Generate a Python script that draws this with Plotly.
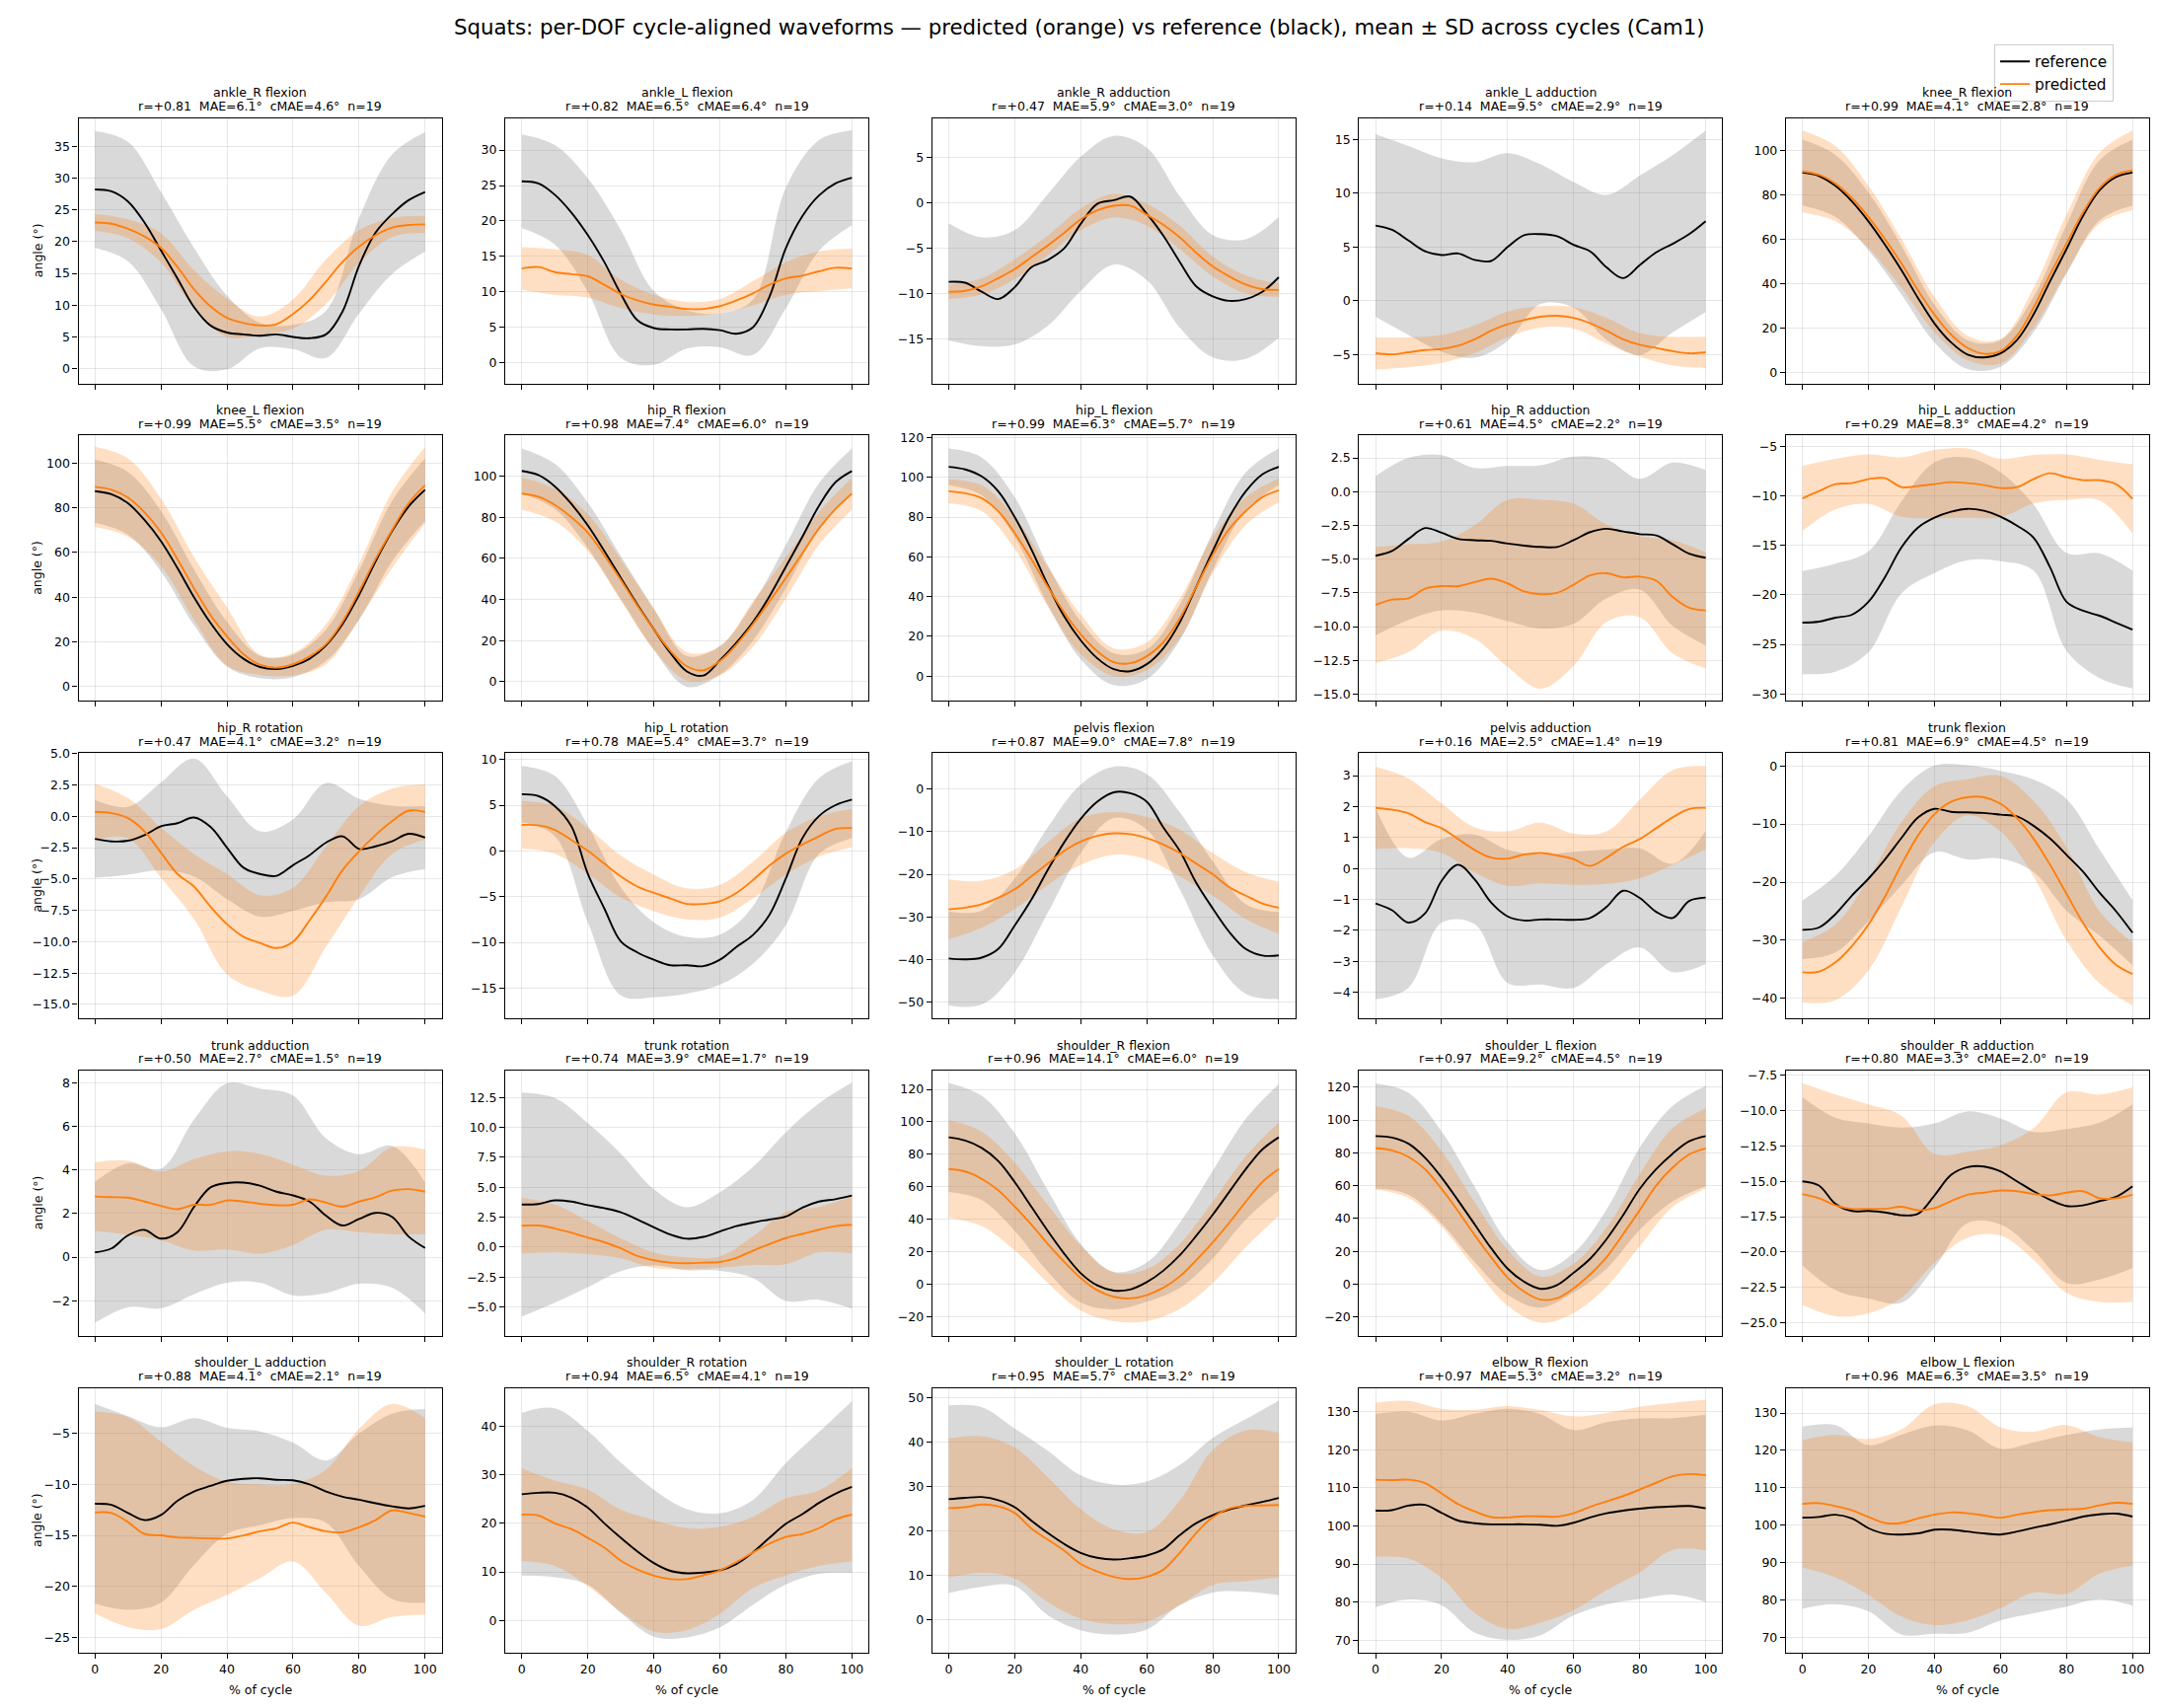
import plotly.graph_objects as go

# ---------------- data ----------------
X = [0, 5, 10, 15, 20, 25, 30, 35, 40, 45, 50, 55, 60, 65, 70, 75, 80, 85, 90, 95, 100]
XB = [0, 10, 20, 30, 40, 50, 60, 70, 80, 90, 100]

dof_labels = ["ankle_R flexion", "ankle_L flexion", "ankle_R adduction", "ankle_L adduction", "knee_R flexion",
              "knee_L flexion", "hip_R flexion", "hip_L flexion", "hip_R adduction", "hip_L adduction",
              "hip_R rotation", "hip_L rotation", "pelvis flexion", "pelvis adduction", "trunk flexion",
              "trunk adduction", "trunk rotation", "shoulder_R flexion", "shoulder_L flexion", "shoulder_R adduction",
              "shoulder_L adduction", "shoulder_R rotation", "shoulder_L rotation", "elbow_R flexion", "elbow_L flexion"]
r_values = [0.81, 0.82, 0.47, 0.14, 0.99, 0.99, 0.98, 0.99, 0.61, 0.29, 0.47, 0.78, 0.87, 0.16, 0.81,
            0.50, 0.74, 0.96, 0.97, 0.80, 0.88, 0.94, 0.95, 0.97, 0.96]
mae_values = [6.1, 6.5, 5.9, 9.5, 4.1, 5.5, 7.4, 6.3, 4.5, 8.3, 4.1, 5.4, 9.0, 2.5, 6.9,
              2.7, 3.9, 14.1, 9.2, 3.3, 4.1, 6.5, 5.7, 5.3, 6.3]
cmae_values = [4.6, 6.4, 3.0, 2.9, 2.8, 3.5, 6.0, 5.7, 2.2, 4.2, 3.2, 3.7, 7.8, 1.4, 4.5,
               1.5, 1.7, 6.0, 4.5, 2.0, 2.1, 4.1, 3.2, 3.2, 3.5]
n_cycles = [19] * 25

ankle_R_flexion_ref = [28.2, 27.9, 26.3, 23.0, 18.6, 14.2, 9.7, 6.8, 5.7, 5.4, 5.2, 5.4, 5.0, 4.8, 5.4, 9.0, 16.2, 21.4, 24.3, 26.5, 27.8]
ankle_R_flexion_ref_sd = [9.2, 9.4, 9.2, 9.3, 5.8, 2.0, 1.9, 3.7, 7.5, 9.4, 9.4]
ankle_R_flexion_pred = [23.0, 22.8, 22.0, 20.8, 19.0, 16.0, 12.5, 9.8, 8.0, 7.2, 6.8, 7.0, 8.6, 10.8, 13.7, 16.8, 19.2, 21.0, 22.2, 22.6, 22.7]
ankle_R_flexion_pred_sd = [1.3, 1.5, 2.3, 3.0, 3.0, 1.4, 2.3, 3.5, 2.6, 1.5, 1.35]

ankle_L_flexion_ref = [25.6, 25.3, 23.7, 21.2, 18.0, 14.2, 9.7, 6.0, 4.9, 4.7, 4.7, 4.8, 4.6, 4.1, 5.0, 9.3, 16.2, 20.7, 23.6, 25.3, 26.1]
ankle_L_flexion_ref_sd = [6.6, 7.0, 8.0, 9.0, 5.2, 2.7, 2.4, 3.9, 8.5, 7.8, 6.7]
ankle_L_flexion_pred = [13.3, 13.5, 12.8, 12.5, 12.2, 11.0, 9.7, 8.8, 8.2, 7.9, 7.6, 7.6, 8.0, 8.8, 9.8, 11.0, 11.9, 12.3, 12.9, 13.4, 13.3]
ankle_L_flexion_pred_sd = [3.0, 3.2, 3.0, 2.0, 1.4, 1.0, 1.0, 1.7, 2.3, 2.8, 2.8]

ankle_R_adduction_ref = [-8.7, -8.8, -9.8, -10.6, -9.3, -7.1, -6.3, -5.0, -2.3, -0.1, 0.3, 0.7, -1.2, -3.6, -6.5, -9.2, -10.3, -10.8, -10.6, -9.8, -8.2]
ankle_R_adduction_ref_sd = [6.45, 6.0, 6.3, 7.25, 7.4, 7.1, 7.3, 7.25, 6.75, 6.6, 6.65]
ankle_R_adduction_pred = [-9.8, -9.7, -9.2, -8.3, -7.3, -6.0, -4.7, -3.3, -1.8, -0.8, -0.3, -0.3, -1.3, -2.4, -3.8, -5.5, -7.0, -8.1, -9.0, -9.5, -9.6]
ankle_R_adduction_pred_sd = [0.8, 0.9, 1.1, 1.1, 1.2, 1.3, 1.2, 1.3, 1.1, 1.0, 0.75]

ankle_L_adduction_ref = [7.0, 6.6, 5.6, 4.6, 4.25, 4.4, 3.8, 3.7, 5.0, 6.1, 6.2, 6.0, 5.2, 4.6, 3.1, 2.1, 3.3, 4.5, 5.3, 6.2, 7.4]
ankle_L_adduction_ref_sd = [8.5, 8.8, 9.0, 9.1, 8.75, 6.5, 5.85, 6.75, 8.35, 8.25, 8.45]
ankle_L_adduction_pred = [-4.9, -5.0, -4.8, -4.6, -4.5, -4.2, -3.6, -2.8, -2.2, -1.8, -1.5, -1.4, -1.6, -2.1, -2.8, -3.6, -4.1, -4.4, -4.7, -4.9, -4.8]
ankle_L_adduction_pred_sd = [1.5, 1.4, 1.3, 1.3, 1.2, 1.0, 1.0, 1.2, 1.1, 1.35, 1.45]

knee_R_flexion_ref = [90, 88.5, 84, 77, 68, 57.5, 46, 33.5, 22, 13.5, 8, 6.7, 8.5, 14.5, 26, 41, 55.5, 70.5, 82, 88, 90]
knee_R_flexion_ref_sd = [14.8, 14, 13, 11, 8.5, 6.5, 6, 8, 11, 13.5, 14.8]
knee_R_flexion_pred = [90.5, 89, 85, 78.5, 70, 60, 49, 37, 26, 17, 11, 8.3, 9.5, 16.5, 29, 44, 58, 72, 83, 89, 91]
knee_R_flexion_pred_sd = [18.5, 17, 14, 11, 8, 5.5, 5.5, 9, 13, 16, 18]

knee_L_flexion_ref = [87.4, 86, 82, 74.5, 65, 53, 40, 28.5, 19, 12.5, 8.8, 7.9, 9.3, 12.5, 18.5, 28, 41, 56, 69.5, 80.5, 88]
knee_L_flexion_ref_sd = [14.1, 14, 13.5, 12.5, 10, 5, 5, 7, 11, 13.5, 14]
knee_L_flexion_pred = [89.3, 88, 84.5, 78, 69, 57, 44, 32, 22.5, 14.5, 9.8, 8.5, 10, 13.5, 19, 29, 42.5, 57, 70, 82, 90]
knee_L_flexion_pred_sd = [17.9, 17.5, 15, 14, 13, 4.5, 5, 9, 12.5, 17, 17.1]

hip_R_flexion_ref = [102.5, 100.5, 95, 86.5, 76, 63.5, 50.5, 37.5, 25.5, 14, 5, 3.0, 10.4, 19, 29, 41.5, 56, 70.5, 85.5, 97, 102.5]
hip_R_flexion_ref_sd = [11, 11, 11, 10.5, 10, 7.5, 7, 9, 10.5, 11, 11]
hip_R_flexion_pred = [91.5, 90, 86, 80, 72.5, 61.5, 49.5, 37, 25.5, 15, 7.5, 5.5, 10, 18, 28, 39, 50.5, 62.5, 74.5, 84, 91.5]
hip_R_flexion_pred_sd = [7.8, 8, 9, 10, 10, 7, 7, 11, 10, 8, 7.8]

hip_L_flexion_ref = [105.3, 104, 100.5, 93, 80, 64, 46, 30, 18, 9, 3.5, 2.5, 6, 14, 27, 45, 63, 80, 93, 101.5, 105.3]
hip_L_flexion_ref_sd = [9.2, 9.5, 10, 10, 9.5, 8, 7.5, 9, 9.5, 9.5, 9.2]
hip_L_flexion_pred = [93, 92, 89.5, 83, 72, 59, 45, 32, 21, 12.5, 7, 6.5, 10, 17, 29, 45, 61, 74, 83, 90, 93.5]
hip_L_flexion_pred_sd = [6, 6.5, 8, 10, 10, 7, 7, 10, 9, 7, 6]

hip_R_adduction_ref = [-4.75, -4.4, -3.5, -2.7, -3.05, -3.5, -3.6, -3.65, -3.85, -4.0, -4.1, -4.1, -3.6, -3.0, -2.75, -2.95, -3.15, -3.25, -3.9, -4.6, -4.9]
hip_R_adduction_ref_sd = [5.9, 6.0, 5.75, 5.35, 5.75, 6.05, 6.2, 5.15, 4.1, 6.05, 6.5]
hip_R_adduction_pred = [-8.4, -8.0, -7.9, -7.2, -7.0, -7.0, -6.7, -6.45, -6.8, -7.4, -7.6, -7.5, -6.9, -6.2, -6.05, -6.35, -6.3, -6.6, -7.8, -8.6, -8.8]
hip_R_adduction_pred_sd = [4.3, 4.0, 3.3, 4.2, 6.2, 7.0, 6.0, 3.6, 3.0, 4.2, 4.3]

hip_L_adduction_ref = [-22.8, -22.7, -22.3, -22.0, -20.7, -18.2, -15.2, -13.2, -12.2, -11.6, -11.3, -11.5, -12.1, -13.0, -14.2, -17.2, -20.7, -21.6, -22.1, -22.8, -23.5]
hip_L_adduction_ref_sd = [5.2, 5.45, 5.1, 4.65, 5.6, 5.2, 4.5, 3.35, 4.95, 6.3, 5.95]
hip_L_adduction_pred = [-10.25, -9.5, -8.8, -8.7, -8.3, -8.2, -9.1, -9.0, -8.8, -8.6, -8.7, -8.9, -9.2, -9.1, -8.3, -7.7, -8.1, -8.4, -8.4, -8.8, -10.3]
hip_L_adduction_pred_sd = [3.3, 2.55, 2.5, 3.0, 3.45, 3.5, 2.95, 2.45, 2.3, 2.05, 3.5]

hip_R_rotation_ref = [-1.8, -2.0, -1.95, -1.5, -0.8, -0.55, -0.1, -0.85, -2.5, -4.1, -4.6, -4.75, -3.9, -3.1, -2.1, -1.6, -2.6, -2.4, -2.0, -1.4, -1.7]
hip_R_rotation_ref_sd = [3.1, 2.7, 3.5, 4.7, 4.1, 3.4, 3.65, 4.75, 4.0, 2.85, 2.5]
hip_R_rotation_pred = [0.35, 0.25, -0.15, -1.2, -2.9, -4.6, -5.6, -7.2, -8.6, -9.6, -10.1, -10.5, -10.0, -8.3, -6.4, -4.3, -2.8, -1.5, -0.4, 0.45, 0.35]
hip_R_rotation_pred_sd = [2.25, 1.6, 2.0, 2.6, 4.0, 3.8, 4.3, 4.0, 3.6, 2.6, 2.2]

hip_L_rotation_ref = [6.2, 6.0, 4.9, 2.7, -2.5, -6.3, -9.9, -11.1, -11.9, -12.5, -12.5, -12.6, -11.9, -10.5, -9.2, -7.0, -3.0, 1.4, 3.8, 5.0, 5.6]
hip_L_rotation_ref_sd = [3.1, 3.3, 5.3, 5.9, 4.1, 3.1, 2.75, 3.15, 5.1, 4.15, 4.2]
hip_L_rotation_pred = [2.85, 2.8, 2.3, 1.2, 0.0, -1.4, -2.8, -3.9, -4.6, -5.2, -5.8, -5.8, -5.5, -4.6, -3.2, -1.6, -0.3, 0.7, 1.6, 2.4, 2.5]
hip_L_rotation_pred_sd = [2.6, 2.6, 2.5, 2.3, 2.0, 1.7, 1.8, 2.0, 2.3, 2.2, 2.1]

pelvis_flexion_ref = [-39.7, -39.9, -39.5, -37.5, -32, -26, -19, -12.5, -7, -3, -0.8, -1.0, -3.0, -9, -14.5, -22, -28, -33.5, -37.5, -39, -39]
pelvis_flexion_ref_sd = [11, 11, 11, 10, 8, 6, 6.5, 9, 11, 10.5, 10.2]
pelvis_flexion_pred = [-28.2, -27.8, -27.0, -25.5, -23.5, -20.5, -17.5, -14.5, -12.3, -11, -10.4, -10.6, -11.5, -13, -15, -17.5, -20, -23, -25, -26.8, -27.8]
pelvis_flexion_pred_sd = [7.0, 5.5, 4.6, 5.0, 5.5, 5.0, 5.0, 5.5, 5.0, 5.5, 6.1]

pelvis_adduction_ref = [-1.13, -1.35, -1.75, -1.45, -0.4, 0.12, -0.35, -1.1, -1.55, -1.68, -1.65, -1.65, -1.66, -1.6, -1.24, -0.72, -0.95, -1.4, -1.6, -1.05, -0.94]
pelvis_adduction_ref_sd = [3.1, 2.1, 1.35, 1.45, 2.15, 2.1, 2.2, 1.85, 1.6, 1.75, 2.15]
pelvis_adduction_pred = [1.96, 1.9, 1.78, 1.5, 1.3, 0.95, 0.6, 0.35, 0.32, 0.45, 0.5, 0.42, 0.3, 0.08, 0.35, 0.7, 0.95, 1.3, 1.65, 1.92, 1.96]
pelvis_adduction_pred_sd = [1.33, 1.13, 0.8, 0.73, 0.88, 0.98, 0.83, 0.85, 1.27, 1.53, 1.35]

trunk_flexion_ref = [-28.2, -27.8, -25.5, -22.3, -19.4, -16.1, -12.4, -8.9, -7.4, -7.9, -8.0, -8.1, -8.4, -8.7, -10.3, -12.5, -15.3, -18.2, -21.8, -25.0, -28.7]
trunk_flexion_ref_sd = [5.05, 6.6, 7.3, 8.15, 7.45, 8.1, 7.55, 7.95, 9.6, 7.4, 5.6]
trunk_flexion_pred = [-35.5, -35.4, -33.8, -31.0, -27.3, -22.5, -17, -12, -8.3, -6.2, -5.4, -5.4, -6.5, -9.0, -12.5, -17.0, -22.0, -27, -31.2, -34.2, -35.8]
trunk_flexion_pred_sd = [5.2, 6.5, 7.9, 7.3, 4.8, 3.1, 4.8, 6.5, 8.0, 6.2, 5.4]

trunk_adduction_ref = [0.22, 0.4, 1.0, 1.25, 0.85, 1.15, 2.3, 3.2, 3.4, 3.42, 3.28, 3.0, 2.83, 2.55, 1.9, 1.45, 1.75, 2.03, 1.85, 0.95, 0.42]
trunk_adduction_ref_sd = [3.23, 3.3, 3.2, 4.0, 4.57, 4.45, 4.58, 3.55, 2.97, 3.25, 3.0]
trunk_adduction_pred = [2.78, 2.75, 2.73, 2.55, 2.35, 2.2, 2.4, 2.4, 2.6, 2.55, 2.45, 2.38, 2.4, 2.65, 2.5, 2.32, 2.55, 2.75, 3.05, 3.12, 3.0]
trunk_adduction_pred_sd = [1.58, 1.7, 1.58, 2.1, 2.25, 2.29, 1.84, 1.24, 1.4, 2.0, 1.94]

trunk_rotation_ref = [3.55, 3.6, 3.9, 3.8, 3.5, 3.25, 2.9, 2.3, 1.65, 1.05, 0.7, 0.85, 1.3, 1.75, 2.05, 2.3, 2.55, 3.3, 3.8, 4.0, 4.3]
trunk_rotation_ref_sd = [9.36, 8.55, 6.85, 4.9, 3.18, 2.63, 3.28, 4.63, 7.05, 8.2, 9.45]
trunk_rotation_pred = [1.78, 1.8, 1.55, 1.2, 0.8, 0.4, -0.1, -0.75, -1.1, -1.3, -1.35, -1.3, -1.25, -0.9, -0.3, 0.25, 0.75, 1.1, 1.45, 1.75, 1.86]
trunk_rotation_pred_sd = [2.33, 2.0, 1.38, 0.83, 0.65, 0.49, 0.48, 1.19, 2.18, 1.9, 2.39]

shoulder_R_flexion_ref = [90.5, 88.5, 84, 76, 63, 48, 33, 19, 7, -0.5, -3.7, -3.0, 1.5, 8.5, 18, 30, 43, 57, 71, 83, 90.5]
shoulder_R_flexion_ref_sd = [33.5, 32, 30, 25, 18, 11.5, 12, 20, 27, 31, 32.7]
shoulder_R_flexion_pred = [71, 69.5, 65, 58, 48, 37, 25, 14, 4, -3.5, -7.5, -8.5, -6.5, -2, 5, 15, 26, 38, 51, 63, 71]
shoulder_R_flexion_pred_sd = [30, 29, 27, 24, 20, 15, 16, 20, 25, 28, 28.7]

shoulder_L_flexion_ref = [90.2, 89.3, 85.5, 77, 65, 51, 36.5, 22, 9.5, 1.5, -2.8, -0.5, 7, 15.5, 27.5, 42, 58, 70, 79.5, 87, 90.2]
shoulder_L_flexion_ref_sd = [32, 31, 28, 23, 16, 11.5, 12, 18, 25, 29, 30.5]
shoulder_L_flexion_pred = [82.9, 81.5, 77.5, 70, 58, 44.5, 30, 16.5, 4, -4.5, -9.4, -8.5, -2.5, 6, 16.5, 30.5, 45, 60, 71, 79, 82.7]
shoulder_L_flexion_pred_sd = [25.4, 25, 23, 20, 17, 14, 15, 18, 22, 24, 24.4]

shoulder_R_adduction_ref = [-15.0, -15.3, -16.6, -17.1, -17.1, -17.2, -17.4, -17.3, -16.0, -14.55, -14.0, -13.95, -14.3, -15.0, -15.7, -16.3, -16.75, -16.7, -16.4, -16.1, -15.35]
shoulder_R_adduction_ref_sd = [5.95, 6.1, 6.2, 6.2, 5.1, 3.95, 3.75, 4.2, 5.45, 5.55, 5.8]
shoulder_R_adduction_pred = [-15.9, -16.2, -16.7, -16.95, -16.95, -16.95, -16.8, -17.05, -16.9, -16.4, -15.95, -15.8, -15.65, -15.7, -15.9, -16.0, -15.8, -15.7, -16.2, -16.2, -15.95]
shoulder_R_adduction_pred_sd = [7.85, 7.85, 7.4, 6.45, 3.85, 3.05, 3.2, 4.65, 7.1, 7.35, 7.6]

shoulder_L_adduction_ref = [-11.9, -12.0, -12.8, -13.5, -13.0, -11.6, -10.7, -10.15, -9.65, -9.45, -9.4, -9.55, -9.6, -10.0, -10.7, -11.2, -11.5, -11.85, -12.15, -12.35, -12.1]
shoulder_L_adduction_ref_sd = [9.8, 9.5, 8.6, 7.2, 5.2, 4.6, 3.7, 3.05, 6.5, 9.1, 9.5]
shoulder_L_adduction_pred = [-12.75, -12.8, -13.7, -14.85, -15.0, -15.2, -15.25, -15.3, -15.3, -15.0, -14.6, -14.3, -13.75, -14.2, -14.6, -14.7, -14.2, -13.5, -12.55, -12.8, -13.15]
shoulder_L_adduction_pred_sd = [9.9, 10.3, 9.2, 7.05, 5.55, 4.6, 3.8, 6.05, 9.65, 10.45, 9.65]

shoulder_R_rotation_ref = [26.0, 26.3, 26.3, 25.3, 23.2, 20.0, 17.0, 14.2, 11.8, 10.2, 9.7, 9.85, 10.3, 11.6, 14.0, 17.0, 19.9, 21.9, 24.2, 26.1, 27.5]
shoulder_R_rotation_ref_sd = [16.75, 17.4, 15.85, 15.5, 15.15, 13.2, 11.75, 10.8, 12.5, 14.6, 17.7]
shoulder_R_rotation_pred = [21.8, 21.6, 20.0, 18.8, 17.0, 15.0, 12.3, 10.5, 9.2, 8.5, 8.5, 9.3, 10.3, 12.0, 14.0, 15.8, 17.2, 17.8, 19.0, 20.8, 21.8]
shoulder_R_rotation_pred_sd = [9.55, 8.8, 9.95, 10.5, 11.5, 10.5, 8.95, 7.35, 7.95, 7.8, 9.6]

shoulder_L_rotation_ref = [27.1, 27.4, 27.6, 26.9, 25.3, 22.3, 19.5, 17.0, 15.0, 13.9, 13.5, 13.8, 14.4, 15.8, 19.0, 21.7, 23.5, 24.8, 25.7, 26.5, 27.4]
shoulder_L_rotation_ref_sd = [21.15, 20.25, 17.75, 18.55, 17.45, 16.9, 16.7, 15.8, 17.45, 19.45, 21.95]
shoulder_L_rotation_pred = [25.1, 25.3, 25.9, 25.5, 24.0, 20.5, 18.0, 15.5, 12.5, 10.8, 9.6, 9.1, 9.6, 11.2, 15.0, 19.5, 23.0, 25.0, 25.6, 25.7, 25.8]
shoulder_L_rotation_pred_sd = [15.65, 15.4, 14.75, 14.1, 12.35, 10.7, 10.1, 11.8, 15.2, 17.0, 16.3]

elbow_R_flexion_ref = [104.0, 104.1, 105.3, 105.5, 103.4, 101.4, 100.7, 100.4, 100.4, 100.4, 100.3, 100.0, 100.8, 102.2, 103.3, 104.0, 104.5, 104.9, 105.1, 105.2, 104.6]
elbow_R_flexion_ref_sd = [25.35, 24.65, 24.25, 28.7, 30.3, 29.0, 24.3, 23.9, 23.7, 23.15, 24.55]
elbow_R_flexion_pred = [112.1, 112.0, 112.1, 111.2, 108.5, 105.7, 103.8, 102.3, 102.2, 102.5, 102.5, 102.4, 103.3, 105.0, 106.4, 107.8, 109.5, 111.3, 113.0, 113.6, 113.3]
elbow_R_flexion_pred_sd = [20.25, 20.7, 22.2, 26.65, 29.25, 27.9, 25.45, 23.25, 21.75, 19.3, 19.8]

elbow_L_flexion_ref = [102.0, 102.2, 102.8, 101.8, 99.2, 97.7, 97.5, 97.8, 98.8, 98.8, 98.3, 97.8, 97.5, 98.3, 99.3, 100.2, 101.2, 102.3, 102.9, 103.1, 102.3]
elbow_L_flexion_ref_sd = [24.35, 23.95, 22.2, 26.7, 27.85, 27.05, 22.95, 22.85, 22.95, 22.7, 23.8]
elbow_L_flexion_pred = [105.7, 105.9, 105.1, 104.0, 102.2, 100.6, 100.6, 101.8, 102.8, 103.4, 103.2, 102.6, 102.0, 102.8, 103.5, 104.0, 104.2, 104.4, 105.3, 106.0, 105.7]
elbow_L_flexion_pred_sd = [17, 19.1, 20.85, 25, 29.5, 28.65, 24.2, 21.5, 22.6, 18.25, 16.45]

series = [
    (ankle_R_flexion_ref, ankle_R_flexion_ref_sd, ankle_R_flexion_pred, ankle_R_flexion_pred_sd),
    (ankle_L_flexion_ref, ankle_L_flexion_ref_sd, ankle_L_flexion_pred, ankle_L_flexion_pred_sd),
    (ankle_R_adduction_ref, ankle_R_adduction_ref_sd, ankle_R_adduction_pred, ankle_R_adduction_pred_sd),
    (ankle_L_adduction_ref, ankle_L_adduction_ref_sd, ankle_L_adduction_pred, ankle_L_adduction_pred_sd),
    (knee_R_flexion_ref, knee_R_flexion_ref_sd, knee_R_flexion_pred, knee_R_flexion_pred_sd),
    (knee_L_flexion_ref, knee_L_flexion_ref_sd, knee_L_flexion_pred, knee_L_flexion_pred_sd),
    (hip_R_flexion_ref, hip_R_flexion_ref_sd, hip_R_flexion_pred, hip_R_flexion_pred_sd),
    (hip_L_flexion_ref, hip_L_flexion_ref_sd, hip_L_flexion_pred, hip_L_flexion_pred_sd),
    (hip_R_adduction_ref, hip_R_adduction_ref_sd, hip_R_adduction_pred, hip_R_adduction_pred_sd),
    (hip_L_adduction_ref, hip_L_adduction_ref_sd, hip_L_adduction_pred, hip_L_adduction_pred_sd),
    (hip_R_rotation_ref, hip_R_rotation_ref_sd, hip_R_rotation_pred, hip_R_rotation_pred_sd),
    (hip_L_rotation_ref, hip_L_rotation_ref_sd, hip_L_rotation_pred, hip_L_rotation_pred_sd),
    (pelvis_flexion_ref, pelvis_flexion_ref_sd, pelvis_flexion_pred, pelvis_flexion_pred_sd),
    (pelvis_adduction_ref, pelvis_adduction_ref_sd, pelvis_adduction_pred, pelvis_adduction_pred_sd),
    (trunk_flexion_ref, trunk_flexion_ref_sd, trunk_flexion_pred, trunk_flexion_pred_sd),
    (trunk_adduction_ref, trunk_adduction_ref_sd, trunk_adduction_pred, trunk_adduction_pred_sd),
    (trunk_rotation_ref, trunk_rotation_ref_sd, trunk_rotation_pred, trunk_rotation_pred_sd),
    (shoulder_R_flexion_ref, shoulder_R_flexion_ref_sd, shoulder_R_flexion_pred, shoulder_R_flexion_pred_sd),
    (shoulder_L_flexion_ref, shoulder_L_flexion_ref_sd, shoulder_L_flexion_pred, shoulder_L_flexion_pred_sd),
    (shoulder_R_adduction_ref, shoulder_R_adduction_ref_sd, shoulder_R_adduction_pred, shoulder_R_adduction_pred_sd),
    (shoulder_L_adduction_ref, shoulder_L_adduction_ref_sd, shoulder_L_adduction_pred, shoulder_L_adduction_pred_sd),
    (shoulder_R_rotation_ref, shoulder_R_rotation_ref_sd, shoulder_R_rotation_pred, shoulder_R_rotation_pred_sd),
    (shoulder_L_rotation_ref, shoulder_L_rotation_ref_sd, shoulder_L_rotation_pred, shoulder_L_rotation_pred_sd),
    (elbow_R_flexion_ref, elbow_R_flexion_ref_sd, elbow_R_flexion_pred, elbow_R_flexion_pred_sd),
    (elbow_L_flexion_ref, elbow_L_flexion_ref_sd, elbow_L_flexion_pred, elbow_L_flexion_pred_sd),
]

# ---------------- axis configuration ----------------
y_ranges = [[-2.3, 39.4], [-2.9, 34.5], [-19.9, 9.35], [-7.7, 17.0], [-5.0, 114.5],
            [-6.3, 112.2], [-9.3, 119.7], [-12.4, 121.0], [-15.5, 4.15], [-30.7, -3.9],
            [-16.1, 5.04], [-18.3, 10.7], [-53.7, 8.4], [-4.84, 3.73], [-43.4, 2.2],
            [-3.6, 8.56], [-7.4, 14.75], [-31.4, 131.6], [-31.3, 130.1], [-25.93, -7.15],
            [-26.55, -0.53], [-6.74, 47.9], [-7.6, 52.2], [66.6, 136.2], [65.8, 136.7]]
y_dticks = [5, 5, 5, 5, 20, 20, 20, 20, 2.5, 5, 2.5, 5, 10, 1, 10, 2, 2.5, 20, 20, 2.5, 5, 10, 10, 10, 10]

W, H = 2188, 1731
PW, PH = 368, 270
col_left = [79.5 + 432.6 * c for c in range(5)]
row_top = [113.3 + 323.2 * r for r in range(5)]
FONT = "DejaVu Sans"
GRAY_BAND = "rgba(128,128,128,0.30)"
ORANGE_BAND = "rgba(255,127,14,0.25)"
ORANGE = "#ff7f0e"

fig = go.Figure()
layout_axes = {}
annotations = []

for i, (ref, ref_sd, pred, pred_sd) in enumerate(series):
    r, c = divmod(i, 5)
    k = i + 1
    xa = "x" if k == 1 else f"x{k}"
    ya = "y" if k == 1 else f"y{k}"
    xkey = "xaxis" if k == 1 else f"xaxis{k}"
    ykey = "yaxis" if k == 1 else f"yaxis{k}"
    x0 = col_left[c] / W
    x1 = (col_left[c] + PW) / W
    y1 = 1 - row_top[r] / H
    y0 = 1 - (row_top[r] + PH) / H

    ref_b = ref[::2]
    pred_b = pred[::2]
    ref_lo = [m - s for m, s in zip(ref_b, ref_sd)]
    ref_hi = [m + s for m, s in zip(ref_b, ref_sd)]
    pred_lo = [m - s for m, s in zip(pred_b, pred_sd)]
    pred_hi = [m + s for m, s in zip(pred_b, pred_sd)]

    common = dict(xaxis=xa, yaxis=ya, hoverinfo="skip", showlegend=False)
    fig.add_trace(go.Scatter(x=XB, y=ref_lo, mode="lines", line=dict(width=0, shape="spline"), **common))
    fig.add_trace(go.Scatter(x=XB, y=ref_hi, mode="lines", line=dict(width=0, shape="spline"),
                             fill="tonexty", fillcolor=GRAY_BAND, **common))
    fig.add_trace(go.Scatter(x=XB, y=pred_lo, mode="lines", line=dict(width=0, shape="spline"), **common))
    fig.add_trace(go.Scatter(x=XB, y=pred_hi, mode="lines", line=dict(width=0, shape="spline"),
                             fill="tonexty", fillcolor=ORANGE_BAND, **common))
    fig.add_trace(go.Scatter(x=X, y=ref, mode="lines", name="reference",
                             line=dict(color="black", width=1.9, shape="spline"),
                             xaxis=xa, yaxis=ya, showlegend=(i == 0), legendgroup="ref"))
    fig.add_trace(go.Scatter(x=X, y=pred, mode="lines", name="predicted",
                             line=dict(color=ORANGE, width=1.9, shape="spline"),
                             xaxis=xa, yaxis=ya, showlegend=(i == 0), legendgroup="pred"))

    layout_axes[xkey] = dict(
        domain=[x0, x1], anchor=ya, range=[-5, 105], tickvals=[0, 20, 40, 60, 80, 100],
        showticklabels=(r == 4), ticks="outside", ticklen=5, tickwidth=1, tickcolor="black",
        showline=True, mirror=True, linecolor="black", linewidth=1.2,
        showgrid=True, gridcolor="rgba(176,176,176,0.3)", gridwidth=1, zeroline=False,
        tickfont=dict(family=FONT, size=12.5, color="black"),
    )
    ydt = y_dticks[i]
    layout_axes[ykey] = dict(
        domain=[y0, y1], anchor=xa, range=y_ranges[i], tick0=0, dtick=ydt,
        tickformat=(".1f" if ydt == 2.5 else None),
        ticks="outside", ticklen=5, tickwidth=1, tickcolor="black",
        showline=True, mirror=True, linecolor="black", linewidth=1.2,
        showgrid=True, gridcolor="rgba(176,176,176,0.3)", gridwidth=1, zeroline=False,
        tickfont=dict(family=FONT, size=12.5, color="black"),
    )

    cx = (col_left[c] + PW / 2) / W
    annotations.append(dict(text=dof_labels[i], x=cx, y=1 - (row_top[r] - 26) / H, xref="paper", yref="paper",
                            xanchor="center", yanchor="middle", showarrow=False,
                            font=dict(family=FONT, size=12.5, color="black")))
    stat = (f"r={r_values[i]:+.2f}\u00a0 MAE={mae_values[i]:.1f}°\u00a0 "
            f"cMAE={cmae_values[i]:.1f}°\u00a0 n={n_cycles[i]}")
    annotations.append(dict(text=stat, x=cx, y=1 - (row_top[r] - 12) / H, xref="paper", yref="paper",
                            xanchor="center", yanchor="middle", showarrow=False,
                            font=dict(family=FONT, size=12.5, color="black")))
    if c == 0:
        annotations.append(dict(text="angle (°)", x=38 / W, y=1 - (row_top[r] + PH / 2) / H,
                                xref="paper", yref="paper", xanchor="center", yanchor="middle",
                                textangle=-90, showarrow=False,
                                font=dict(family=FONT, size=12.5, color="black")))
    if r == 4:
        annotations.append(dict(text="% of cycle", x=cx, y=1 - 1713 / H, xref="paper", yref="paper",
                                xanchor="center", yanchor="middle", showarrow=False,
                                font=dict(family=FONT, size=12.5, color="black")))

annotations.append(dict(
    text="Squats: per-DOF cycle-aligned waveforms — predicted (orange) vs reference (black), mean ± SD across cycles (Cam1)",
    x=0.5, y=1 - 21 / H, xref="paper", yref="paper", xanchor="center", yanchor="middle",
    showarrow=False, font=dict(family=FONT, size=21.3, color="black")))

fig.update_layout(
    width=W, height=H,
    margin=dict(l=0, r=0, t=0, b=0),
    paper_bgcolor="white", plot_bgcolor="white",
    font=dict(family=FONT, color="black"),
    showlegend=True,
    legend=dict(x=2142 / W, y=1 - 38 / H, xanchor="right", yanchor="top",
                bgcolor="rgba(255,255,255,0.8)", bordercolor="#cccccc", borderwidth=1,
                itemwidth=30, font=dict(family=FONT, size=15.3, color="black"), tracegroupgap=0),
    annotations=annotations,
    **layout_axes,
)

fig.write_html("out.html")
